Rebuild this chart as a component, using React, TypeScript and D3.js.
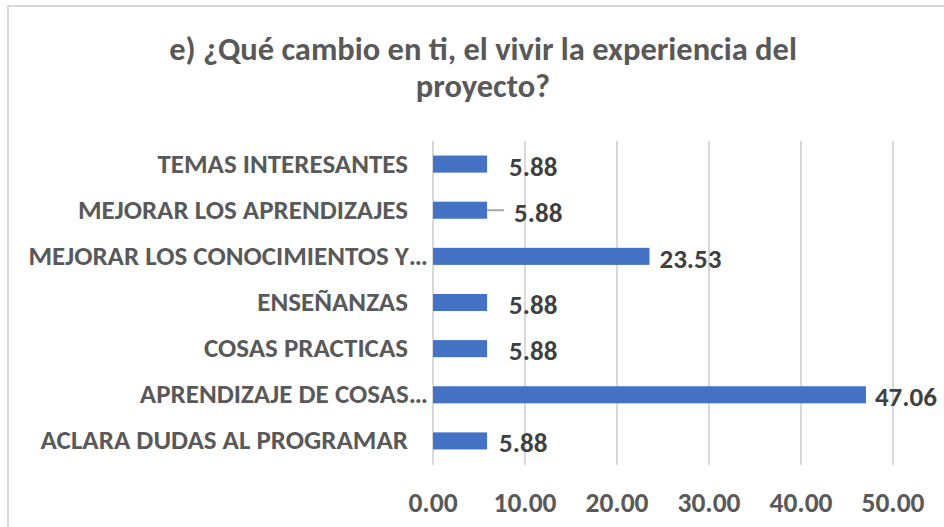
import React from "react";
import * as d3 from "d3";

const categories: string[] = [
  "TEMAS INTERESANTES",
  "MEJORAR LOS APRENDIZAJES",
  "MEJORAR LOS CONOCIMIENTOS Y…",
  "ENSEÑANZAS",
  "COSAS PRACTICAS",
  "APRENDIZAJE DE COSAS…",
  "ACLARA DUDAS AL PROGRAMAR",
];
const values: number[] = [5.88, 5.88, 23.53, 5.88, 5.88, 47.06, 5.88];
const titleLines: string[] = ["e) ¿Qué cambio en ti, el vivir la experiencia del", "proyecto?"];
const tickValues: number[] = [0, 10, 20, 30, 40, 50];
// label offsets from the bar end (as placed in the original)
const labelDx: number[] = [22, 27, 10, 22, 22, 9, 12];
const leaderLine: boolean[] = [false, true, false, false, false, false, false];

const W = 944;
const H = 527;
const FONT = "Carlito, 'Liberation Sans Narrow', 'Arial Narrow', Roboto, sans-serif";

export default function App() {
  const x = d3.scaleLinear().domain([0, 50]).range([433, 893]);
  const y = d3
    .scaleBand<string>()
    .domain(categories)
    .range([141, 464])
    .paddingInner(0.63)
    .paddingOuter(0.315);
  const fmt = d3.format(".2f");
  const bw = y.bandwidth();

  return (
    <svg
      width={W}
      height={H}
      style={{ position: "absolute", left: 0, top: 0, background: "#fff" }}
      fontFamily={FONT}
    >
      <rect x={0} y={0} width={W} height={H} fill="#fff" />
      <rect x={8} y={6} width={W + 20} height={H + 20} fill="none" stroke="#d9d9d9" strokeWidth={2} />
      {titleLines.map((t, i) => (
        <text
          key={i}
          x={483}
          y={60 + i * 37}
          textAnchor="middle"
          fontSize={32.5}
          fontWeight="bold"
          fill="#595959"
        >
          {t}
        </text>
      ))}
      {tickValues.map((t) => (
        <g key={t}>
          <line x1={x(t)} x2={x(t)} y1={141} y2={465} stroke="#d9d9d9" strokeWidth={2} />
          <text
            x={x(t)}
            y={512}
            textAnchor="middle"
            fontSize={27.5}
            fontWeight="bold"
            fill="#595959"
          >
            {fmt(t)}
          </text>
        </g>
      ))}
      {categories.map((c, i) => {
        const cy = (y(c) as number) + bw / 2;
        const truncated = c.endsWith("…");
        return (
          <g key={c}>
            <rect x={x(0)} y={cy - bw / 2} width={x(values[i]) - x(0)} height={bw} fill="#4472c4" />
            <text
              x={truncated ? 428 : 408}
              y={cy + 8.5}
              textAnchor="end"
              fontSize={27}
              fontWeight="bold"
              fill="#595959"
            >
              {c}
            </text>
            {leaderLine[i] && (
              <line
                x1={x(values[i])}
                x2={x(values[i]) + labelDx[i] - 10}
                y1={cy}
                y2={cy}
                stroke="#a6a6a6"
                strokeWidth={2}
              />
            )}
            <text
              x={x(values[i]) + labelDx[i]}
              y={cy + 11.5}
              fontSize={27}
              fontWeight="bold"
              fill="#404040"
            >
              {fmt(values[i])}
            </text>
          </g>
        );
      })}
    </svg>
  );
}
